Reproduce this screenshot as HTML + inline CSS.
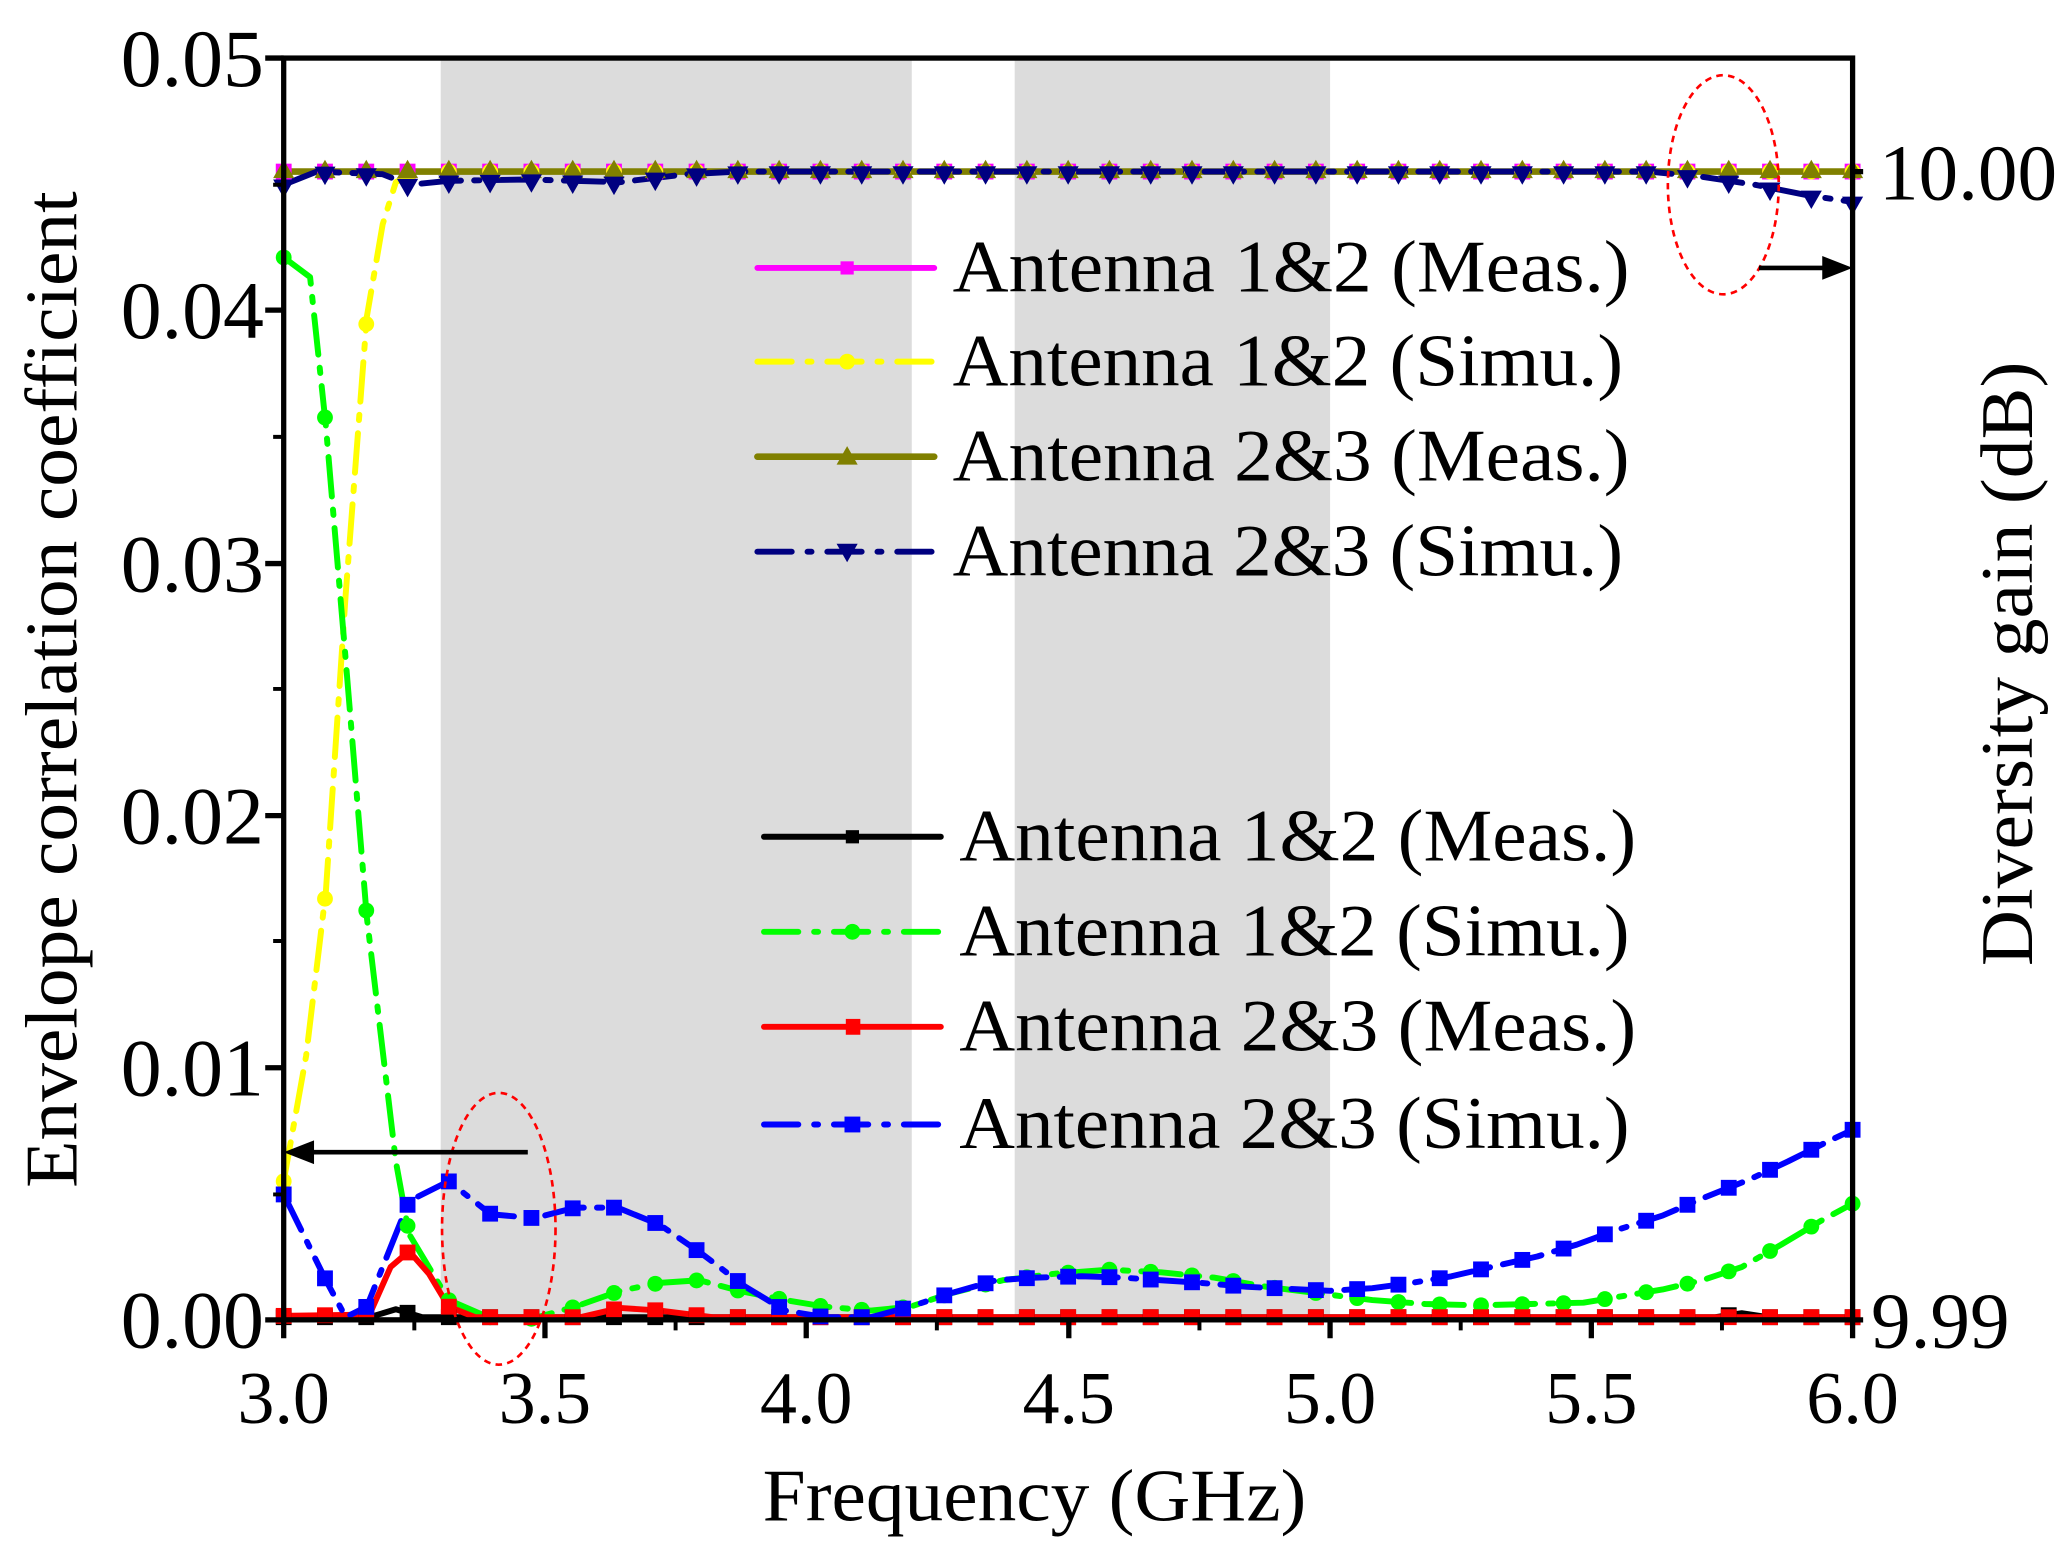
<!DOCTYPE html>
<html><head><meta charset="utf-8"><style>html,body{margin:0;padding:0;background:#fff}svg{display:block}</style></head>
<body>
<svg id="s" width="2069" height="1564" viewBox="0 0 1568 1185" preserveAspectRatio="none" xmlns="http://www.w3.org/2000/svg" font-family="'Liberation Serif', serif">
<rect x="334" y="44" width="357" height="956" fill="#dcdcdc"/>
<rect x="769" y="44" width="239" height="956" fill="#dcdcdc"/>
<g id="series"></g>
<ellipse cx="378" cy="931" rx="43" ry="103" fill="none" stroke="#ff0000" stroke-width="2" stroke-dasharray="5,4"/>
<ellipse cx="1306" cy="140" rx="42" ry="83" fill="none" stroke="#ff0000" stroke-width="2" stroke-dasharray="5,4"/>
<line x1="400" y1="873" x2="232" y2="873" stroke="#000" stroke-width="3.5"/><path d="M215,873 L238,864 L238,882z" fill="#000"/>
<line x1="1333" y1="203" x2="1386" y2="203" stroke="#000" stroke-width="3.5"/><path d="M1404,203 L1381,194 L1381,212z" fill="#000"/>
<g stroke="#000" stroke-width="4" fill="none">
<rect x="215" y="44" width="1189" height="956"/>
<path d="M215,1000v14 M413,1000v14 M611,1000v14 M810,1000v14 M1008,1000v14 M1206,1000v14 M1404,1000v14"/>
<path d="M314,1000v8 M512,1000v8 M710,1000v8 M909,1000v8 M1107,1000v8 M1305,1000v8" stroke-width="3"/>
<path d="M215,44h-14 M215,235h-14 M215,427h-14 M215,618h-14 M215,809h-14 M215,1000h-14"/>
<path d="M215,140h-8 M215,331h-8 M215,522h-8 M215,713h-8 M215,905h-8" stroke-width="3"/>
<path d="M1404,130h8 M1404,1000h8"/>
</g>
<g font-size="56" fill="#000">
<g text-anchor="middle"><text x="215" y="1078">3.0</text><text x="413" y="1078">3.5</text><text x="611" y="1078">4.0</text><text x="810" y="1078">4.5</text><text x="1008" y="1078">5.0</text><text x="1206" y="1078">5.5</text><text x="1404" y="1078">6.0</text></g>
<g font-size="62" text-anchor="end"><text x="200" y="65">0.05</text><text x="200" y="256">0.04</text><text x="200" y="448">0.03</text><text x="200" y="639">0.02</text><text x="200" y="830">0.01</text><text x="200" y="1021">0.00</text></g>
<g font-size="60"><text x="1424" y="151">10.00</text><text x="1418" y="1021">9.99</text></g>
<text x="578" y="1152" textLength="412" lengthAdjust="spacingAndGlyphs">Frequency (GHz)</text>
<text transform="translate(58,900) rotate(-90)" textLength="755" lengthAdjust="spacingAndGlyphs">Envelope correlation coefficient</text>
<text transform="translate(1540,732) rotate(-90)" textLength="458" lengthAdjust="spacingAndGlyphs">Diversity gain (dB)</text>
</g>
<g stroke-width="4.5" stroke-linecap="round">
<line x1="574" y1="203" x2="708" y2="203" stroke="#ff00ff"/><rect x="637" y="198" width="10" height="10" fill="#ff00ff"/>
<line x1="574" y1="274" x2="708" y2="274" stroke="#ffff00" stroke-dasharray="26,12,3,12"/><circle cx="642" cy="274" r="6" fill="#ffff00"/>
<line x1="574" y1="346" x2="708" y2="346" stroke="#808000" stroke-width="5"/><path d="M634,352h16l-8,-14z" fill="#808000"/>
<line x1="574" y1="418" x2="708" y2="418" stroke="#000080" stroke-dasharray="26,12,3,12"/><path d="M634,412h16l-8,14z" fill="#000080"/>
<line x1="579" y1="634" x2="713" y2="634" stroke="#000"/><rect x="641" y="629" width="10" height="10" fill="#000"/>
<line x1="579" y1="706" x2="713" y2="706" stroke="#00ff00" stroke-dasharray="26,12,3,12"/><circle cx="646" cy="706" r="6" fill="#00ff00"/>
<line x1="579" y1="778" x2="713" y2="778" stroke="#ff0000"/><rect x="641" y="772" width="11" height="12" fill="#ff0000"/>
<line x1="579" y1="852" x2="713" y2="852" stroke="#0000ff" stroke-dasharray="26,12,3,12"/><rect x="640" y="846" width="12" height="12" fill="#0000ff"/>
</g>
<g font-size="56" fill="#000">
<text x="722" y="221" textLength="513" lengthAdjust="spacingAndGlyphs">Antenna 1&amp;2 (Meas.)</text>
<text x="722" y="292" textLength="508" lengthAdjust="spacingAndGlyphs">Antenna 1&amp;2 (Simu.)</text>
<text x="722" y="364" textLength="513" lengthAdjust="spacingAndGlyphs">Antenna 2&amp;3 (Meas.)</text>
<text x="722" y="436" textLength="508" lengthAdjust="spacingAndGlyphs">Antenna 2&amp;3 (Simu.)</text>
<text x="727" y="652" textLength="513" lengthAdjust="spacingAndGlyphs">Antenna 1&amp;2 (Meas.)</text>
<text x="727" y="724" textLength="508" lengthAdjust="spacingAndGlyphs">Antenna 1&amp;2 (Simu.)</text>
<text x="727" y="796" textLength="513" lengthAdjust="spacingAndGlyphs">Antenna 2&amp;3 (Meas.)</text>
<text x="727" y="870" textLength="508" lengthAdjust="spacingAndGlyphs">Antenna 2&amp;3 (Simu.)</text>
</g>
</svg>
<script>
(function(){
var NS="http://www.w3.org/2000/svg",g=document.getElementById("series");
function P(s){return s.trim().split(/\s+/).map(function(p){var a=p.split(",");return[+a[0],+a[1]];});}
function interp(pts,x){for(var i=0;i<pts.length-1;i++){if(x>=pts[i][0]&&x<=pts[i+1][0]){var t=(x-pts[i][0])/((pts[i+1][0]-pts[i][0])||1);return pts[i][1]+t*(pts[i+1][1]-pts[i][1]);}}return pts[pts.length-1][1];}
var S=[
{c:"#ff00ff",d:null,m:"sq",p:"215,130 1404,130"},
{c:"#ffff00",d:"30,10,4,10",m:"ci",p:"215,895 232,800 247,675 262,450 278,240 290,170 300,138 315,130 1404,130"},
{c:"#808000",d:null,m:"tu",w:5,p:"215,130 1404,130"},
{c:"#000080",d:"30,10,4,10",m:"td",p:"215,140 240,130 290,132 310,140 340,137 400,136 470,138 520,132 560,130 1250,130 1290,134 1330,140 1370,148 1404,153"},
{c:"#000",d:null,m:"sq",p:"215,998 280,998 300,992 320,998 1300,998 1320,995 1340,998 1404,998"},
{c:"#00ff00",d:"30,10,4,10",m:"ci",p:"215,195 235,210 247,323 262,500 278,695 300,880 310,935 340,985 370,998 400,1000 436,990 470,978 500,972 530,970 560,978 595,985 625,990 660,993 690,990 720,980 760,970 800,965 840,962 880,964 920,968 960,975 1000,980 1040,985 1080,988 1120,989 1160,988 1200,987 1230,982 1260,977 1290,970 1320,960 1350,943 1380,925 1404,912"},
{c:"#ff0000",d:null,m:"sq",p:"215,997 280,996 296,960 310,948 325,965 340,990 360,998 440,998 470,991 500,993 540,998 1404,998"},
{c:"#0000ff",d:"30,10,4,10",m:"sq",p:"215,905 247,970 262,998 278,990 310,910 340,895 372,920 405,923 436,915 468,915 500,928 532,950 565,975 595,993 625,998 660,998 690,990 720,980 755,970 785,968 820,967 850,968 880,970 910,972 945,975 1008,978 1040,976 1070,972 1100,967 1130,960 1165,952 1195,943 1225,932 1260,921 1290,908 1325,894 1355,880 1385,865 1404,856"}
];
S.forEach(function(s){
var pl=document.createElementNS(NS,"polyline");
pl.setAttribute("points",s.p);pl.setAttribute("fill","none");pl.setAttribute("stroke",s.c);
pl.setAttribute("stroke-width",s.w||4.5);pl.setAttribute("stroke-linejoin","round");pl.setAttribute("stroke-linecap","round");
if(s.d)pl.setAttribute("stroke-dasharray",s.d);
g.appendChild(pl);
});
S.forEach(function(s){
var pts=P(s.p);
for(var i=0;i<=38;i++){
var x=215+i*1189/38,y=interp(pts,x),e;
if(s.m=="sq"){e=document.createElementNS(NS,"rect");e.setAttribute("x",x-6);e.setAttribute("y",y-6);e.setAttribute("width",12);e.setAttribute("height",12);}
else if(s.m=="ci"){e=document.createElementNS(NS,"circle");e.setAttribute("cx",x);e.setAttribute("cy",y);e.setAttribute("r",6);}
else if(s.m=="tu"){e=document.createElementNS(NS,"path");e.setAttribute("d","M"+(x-8)+","+(y+5)+"h16l-8,-14z");}
else {e=document.createElementNS(NS,"path");e.setAttribute("d","M"+(x-8)+","+(y-4)+"h16l-8,14z");}
e.setAttribute("fill",s.c);g.appendChild(e);
}
});
})();
</script>
</body></html>
